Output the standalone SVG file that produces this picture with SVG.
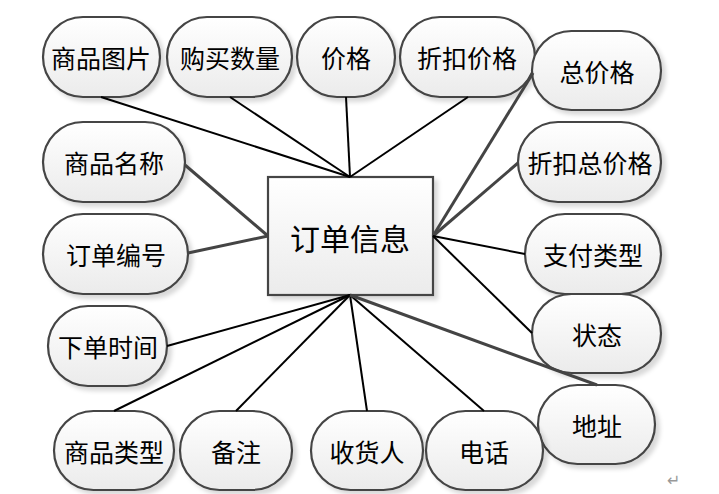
<svg xmlns="http://www.w3.org/2000/svg" width="719" height="494" viewBox="0 0 719 494">
<defs>
<linearGradient id="g" x1="0" y1="0" x2="0" y2="1"><stop offset="0" stop-color="#ffffff"/><stop offset="1" stop-color="#ebebeb"/></linearGradient>
<filter id="sh" x="-10%" y="-10%" width="130%" height="130%"><feDropShadow dx="4" dy="4" stdDeviation="2" flood-color="#000" flood-opacity="0.15"/></filter>
</defs>
<style>
.n{fill:url(#g);stroke:#444;stroke-width:2.2;filter:url(#sh)}
.t{font-family:"Noto Sans CJK SC","Liberation Serif",serif;font-size:25px;fill:#000;text-anchor:middle;dominant-baseline:central}
.k{stroke:#000;stroke-width:2;fill:none}
.d{stroke:#444;stroke-width:3;fill:none}
</style>
<rect width="719" height="494" fill="#fff"/>
<g id="center"><rect class="n" x="268" y="177" width="165" height="118"/><text class="t" x="350" y="237" style="font-size:30px">订单信息</text></g>
<g id="n1"><rect class="n" x="43" y="17" width="117" height="80" rx="40"/><text class="t" x="101" y="57">商品图片</text></g>
<g id="n2"><rect class="n" x="167" y="17" width="125" height="80" rx="40"/><text class="t" x="230" y="57">购买数量</text></g>
<g id="n3"><rect class="n" x="297" y="17" width="98" height="80" rx="40"/><text class="t" x="346" y="57">价格</text></g>
<g id="n4"><rect class="n" x="400" y="17" width="135" height="80" rx="40"/><text class="t" x="467" y="57">折扣价格</text></g>
<g id="n5"><rect class="n" x="532" y="31" width="129" height="79" rx="39.5"/><text class="t" x="597" y="71">总价格</text></g>
<g id="n6"><rect class="n" x="43" y="122" width="142" height="80" rx="40"/><text class="t" x="114" y="162">商品名称</text></g>
<g id="n7"><rect class="n" x="518" y="122" width="143" height="80" rx="40"/><text class="t" x="590" y="162">折扣总价格</text></g>
<g id="n8"><rect class="n" x="43" y="214" width="145" height="80" rx="40"/><text class="t" x="116" y="254">订单编号</text></g>
<g id="n9"><rect class="n" x="525" y="214" width="136" height="80" rx="40"/><text class="t" x="593" y="254">支付类型</text></g>
<g id="n10"><rect class="n" x="48" y="306" width="119" height="80" rx="40"/><text class="t" x="108" y="346">下单时间</text></g>
<g id="n11"><rect class="n" x="532" y="294" width="129" height="79" rx="39.5"/><text class="t" x="597" y="334">状态</text></g>
<g id="n12"><rect class="n" x="538" y="385" width="117" height="79" rx="39.5"/><text class="t" x="597" y="425">地址</text></g>
<g id="n13"><rect class="n" x="54" y="411" width="120" height="79" rx="39.5"/><text class="t" x="114" y="451">商品类型</text></g>
<g id="n14"><rect class="n" x="180" y="411" width="112" height="79" rx="39.5"/><text class="t" x="236" y="451">备注</text></g>
<g id="n15"><rect class="n" x="311" y="411" width="112" height="79" rx="39.5"/><text class="t" x="367" y="451">收货人</text></g>
<g id="n16"><rect class="n" x="426" y="411" width="117" height="79" rx="39.5"/><text class="t" x="484" y="451">电话</text></g>
<g id="connectors">
<line class="k" x1="350" y1="177" x2="101" y2="97"/>
<line class="k" x1="350" y1="177" x2="230" y2="97"/>
<line class="k" x1="350" y1="177" x2="346" y2="97"/>
<line class="k" x1="350" y1="177" x2="468" y2="97"/>
<line class="d" x1="433" y1="236" x2="533" y2="73"/>
<line class="d" x1="433" y1="236" x2="518" y2="163"/>
<line class="k" x1="433" y1="236" x2="525" y2="254"/>
<line class="k" x1="433" y1="236" x2="532" y2="333"/>
<line class="d" x1="268" y1="236" x2="185" y2="165"/>
<line class="d" x1="268" y1="236" x2="188" y2="253"/>
<line class="k" x1="350" y1="295" x2="167" y2="346"/>
<line class="k" x1="350" y1="295" x2="114" y2="411"/>
<line class="k" x1="350" y1="295" x2="236" y2="411"/>
<line class="k" x1="350" y1="295" x2="367" y2="411"/>
<line class="k" x1="350" y1="295" x2="484" y2="411"/>
<line class="d" x1="350" y1="295" x2="597" y2="385"/>
</g>
<text x="667" y="486" style="font-family:'DejaVu Sans',sans-serif;font-size:16px;fill:#999">↵</text>
</svg>
